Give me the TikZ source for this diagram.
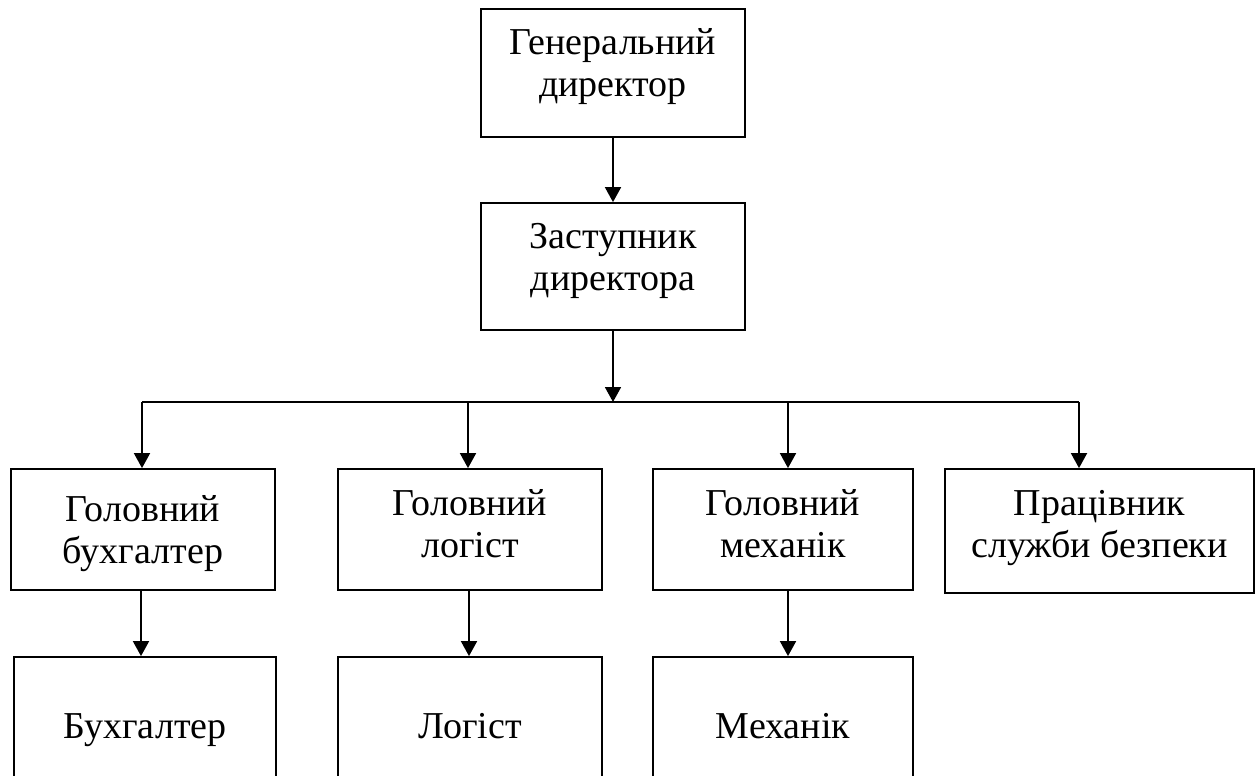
\documentclass[tikz,border=0pt]{standalone}
\usepackage{fontspec}
\setmainfont{Liberation Serif}
\usetikzlibrary{arrows.meta}
\begin{document}
\begin{tikzpicture}[x=1pt,y=-1pt,
  box/.style={draw=black, line width=1.8pt, align=center, inner sep=0pt,
    font=\fontsize{38}{42}\selectfont},
  tv/.style={text height=#1, text depth=10pt},
  arr/.style={line width=1.8pt, -{Triangle[width=16pt,length=15pt]}},
  ln/.style={line width=1.8pt}]
\clip (0,0) rectangle (1255,776);
\fill[white] (0,0) rectangle (1255,776);
% top level
\node[box, tv=56pt, minimum width=264pt, minimum height=128pt] (gd) at (613,73) {Генеральний\\директор};
\node[box, tv=58pt, minimum width=264pt, minimum height=127pt] (zd) at (613,266.5) {Заступник\\директора};
% row 3
\node[box, tv=77pt, minimum width=264pt, minimum height=121pt] (a3) at (143,529.5) {Головний\\бухгалтер};
\node[box, tv=66pt, minimum width=264pt, minimum height=121pt] (b3) at (470,529.5) {Головний\\логіст};
\node[box, tv=66pt, minimum width=260pt, minimum height=121pt] (c3) at (783,529.5) {Головний\\механік};
\node[box, tv=63pt, minimum width=309pt, minimum height=124pt] (d3) at (1099.5,531) {Працівник\\служби безпеки};
% row 4
\node[box, tv=29pt, minimum width=262pt, minimum height=143pt] (a4) at (145,728.5) {Бухгалтер};
\node[box, tv=29pt, minimum width=264pt, minimum height=143pt] (b4) at (470,728.5) {Логіст};
\node[box, tv=29pt, minimum width=260pt, minimum height=143pt] (c4) at (783,728.5) {Механік};
% bus
\coordinate (busL) at (142,402);
\coordinate (busB) at (468,402);
\coordinate (busC) at (788,402);
\coordinate (busR) at (1079,402);
\draw[ln] (busL) -- (busR);
% connectors
\draw[arr] (gd.south) -- (zd.north);
\draw[arr] (zd.south) -- (zd.south |- busL);
\draw[arr] (busL) -- (busL |- a3.north);
\draw[arr] (busB) -- (busB |- b3.north);
\draw[arr] (busC) -- (busC |- c3.north);
\draw[arr] (busR) -- (busR |- d3.north);
\coordinate (ax) at (141,0);
\coordinate (bx) at (469,0);
\coordinate (cx) at (788,0);
\draw[arr] (ax |- a3.south) -- (ax |- a4.north);
\draw[arr] (bx |- b3.south) -- (bx |- b4.north);
\draw[arr] (cx |- c3.south) -- (cx |- c4.north);
\end{tikzpicture}
\end{document}
